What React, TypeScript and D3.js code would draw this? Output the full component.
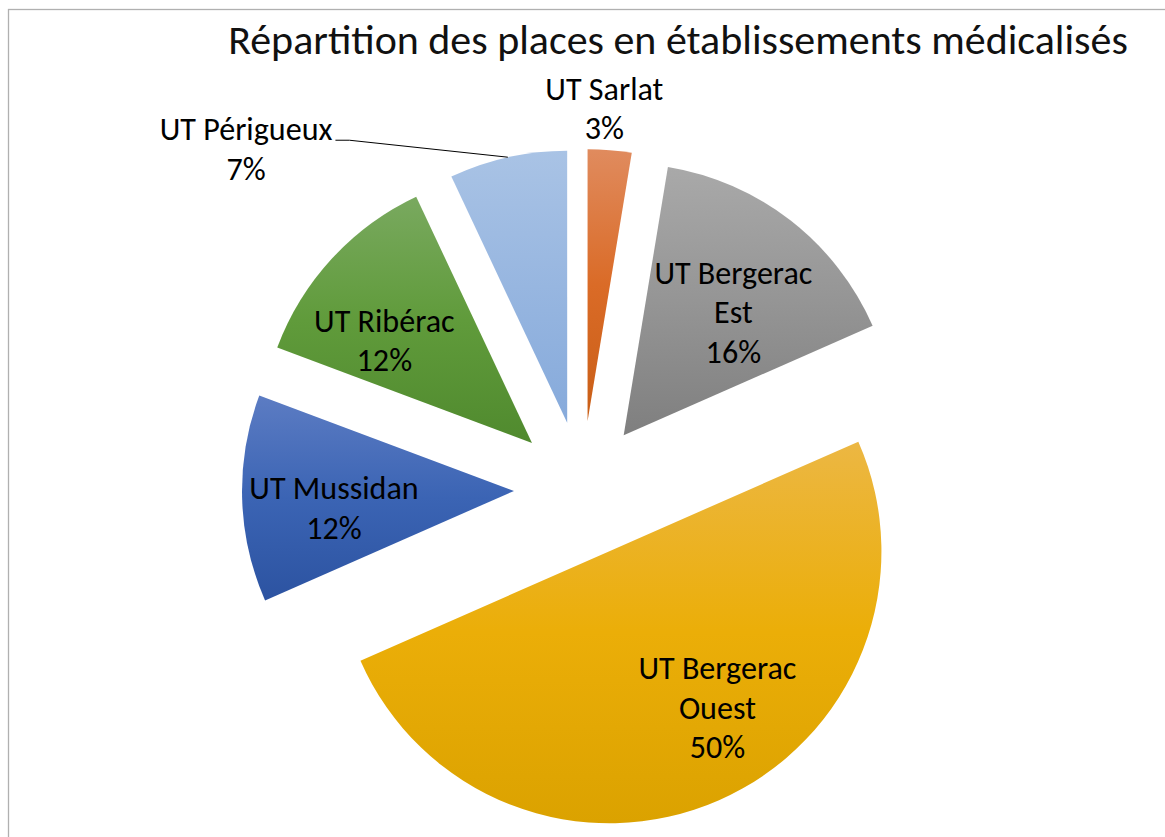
import React, { useRef, useEffect } from 'react';
import * as d3 from 'd3';

// slices clockwise from 12 o'clock
const categories = ['UT Sarlat', 'UT Bergerac Est', 'UT Bergerac Ouest', 'UT Mussidan', 'UT Ribérac', 'UT Périgueux'];
const shares = [2.6, 15.8, 50.0, 12.3, 12.3, 7.0];
const topColors = ['#e08b5e', '#a9a9a9', '#ecb743', '#5c7cc3', '#79a95f', '#a9c3e5'];
const midColors = ['#da6b27', '#959595', '#ebae08', '#3b64b4', '#609b3b', '#97b6e0'];
const bottomColors = ['#c95e16', '#7f7f7f', '#dba200', '#2c53a1', '#508a2e', '#86aadb'];
const title = 'Répartition des places en établissements médicalisés';

// label placement: angle shift (deg) from slice middle, distance as fraction of radius
const labelLayout: Record<string, { shift: number; dist: number; leader?: boolean }> = {
    'UT Sarlat': { shift: -1.6, dist: 1.15 },
    'UT Bergerac Est': { shift: 4, dist: 0.605 },
    'UT Bergerac Ouest': { shift: -10.8, dist: 0.70 },
    'UT Mussidan': { shift: -4, dist: 0.665 },
    'UT Ribérac': { shift: -8, dist: 0.66 },
    'UT Périgueux': { shift: -37, dist: 1.55, leader: true },
};

const W = 1165;
const H = 837;

const App: React.FC = () => {
    const svgRef = useRef<SVGSVGElement>(null);

    useEffect(() => {
        if (!svgRef.current) return;
        const svg = d3.select(svgRef.current);
        svg.selectAll('*').remove();

        const cx = 582;
        const cy = 489;
        const R = 272;
        const explode = 68;
        const lineH = 39.5;
        const font = "Carlito, 'Open Sans', 'Noto Sans', sans-serif";

        // chart frame (runs off the right/bottom of the picture)
        svg.append('rect')
            .attr('x', 8.5)
            .attr('y', 9.5)
            .attr('width', 1400)
            .attr('height', 1000)
            .attr('fill', 'none')
            .attr('stroke', '#b0b0b0')
            .attr('stroke-width', 1.3);

        const defs = svg.append('defs');
        categories.forEach((c, i) => {
            const grad = defs.append('linearGradient')
                .attr('id', `grad-${i}`)
                .attr('x1', 0).attr('y1', 0)
                .attr('x2', 0).attr('y2', 1);
            grad.append('stop').attr('offset', '0%').attr('stop-color', topColors[i]);
            grad.append('stop').attr('offset', '50%').attr('stop-color', midColors[i]);
            grad.append('stop').attr('offset', '100%').attr('stop-color', bottomColors[i]);
        });

        const pieData = d3.pie<number>().sort(null).value(d => d)(shares);
        const arc = d3.arc<d3.PieArcDatum<number>>().innerRadius(0).outerRadius(R);
        const total = d3.sum(shares);

        const polar = (a: number, r: number): [number, number] => [Math.sin(a) * r, -Math.cos(a) * r];

        const g = svg.append('g').attr('transform', `translate(${cx},${cy})`);

        pieData.forEach((d, i) => {
            const mid = (d.startAngle + d.endAngle) / 2;
            const [ox, oy] = polar(mid, explode);
            g.append('path')
                .attr('d', arc(d) as string)
                .attr('transform', `translate(${ox},${oy})`)
                .attr('fill', `url(#grad-${i})`);
        });

        // title
        const titleText = svg.append('text')
            .attr('x', 678)
            .attr('y', 54)
            .attr('text-anchor', 'middle')
            .attr('font-family', font)
            .attr('font-weight', 300)
            .attr('font-size', 38)
            .attr('fill', '#111')
            .text(title);
        const tl = (titleText.node() as SVGTextElement).getComputedTextLength();
        if (tl > 0) titleText.attr('font-size', 38 * 900 / tl);

        // measure label font so that "UT Bergerac" is ~158px wide
        const probe = svg.append('text')
            .attr('font-family', font)
            .attr('font-size', 28)
            .text('UT Bergerac');
        const pl = (probe.node() as SVGTextElement).getComputedTextLength();
        probe.remove();
        const labelSize = pl > 0 ? 28 * 158 / pl : 28;

        const fmt = (v: number) => `${Math.round(v / total * 100)}%`;

        pieData.forEach((d, i) => {
            const name = categories[i];
            const lay = labelLayout[name];
            const mid = (d.startAngle + d.endAngle) / 2;
            const [ox, oy] = polar(mid, explode);
            const [lx, ly] = polar(mid + lay.shift * Math.PI / 180, lay.dist * R);
            const words = name.split(' ');
            const lines = words.length > 2
                ? [words.slice(0, 2).join(' '), words.slice(2).join(' '), fmt(d.value)]
                : [name, fmt(d.value)];
            const x = ox + lx;
            const yc = oy + ly;
            const text = g.append('text')
                .attr('text-anchor', 'middle')
                .attr('font-family', font)
                .attr('font-size', labelSize)
                .attr('fill', '#000');
            lines.forEach((ln, k) => {
                text.append('tspan')
                    .attr('x', x)
                    .attr('y', yc + (k - (lines.length - 1) / 2) * lineH + labelSize * 0.33)
                    .text(ln);
            });

            if (lay.leader) {
                const first = (text.select('tspan').node() as SVGTSpanElement);
                const len = first.getComputedTextLength();
                const y0 = yc - (lines.length - 1) / 2 * lineH + labelSize * 0.33;
                const x0 = x + len / 2 + 3;
                const [ex, ey] = polar(mid, R);
                const leader = d3.line()([
                    [x0, y0],
                    [x0 + 14, y0],
                    [ox + ex, oy + ey],
                ]);
                g.append('path')
                    .attr('d', leader as string)
                    .attr('fill', 'none')
                    .attr('stroke', '#000')
                    .attr('stroke-width', 1);
            }
        });
    }, []);

    return (
        <svg
            ref={svgRef}
            width={W}
            height={H}
            style={{ position: 'absolute', left: 0, top: 0, display: 'block', background: '#fff' }}
        />
    );
};

export default App;
